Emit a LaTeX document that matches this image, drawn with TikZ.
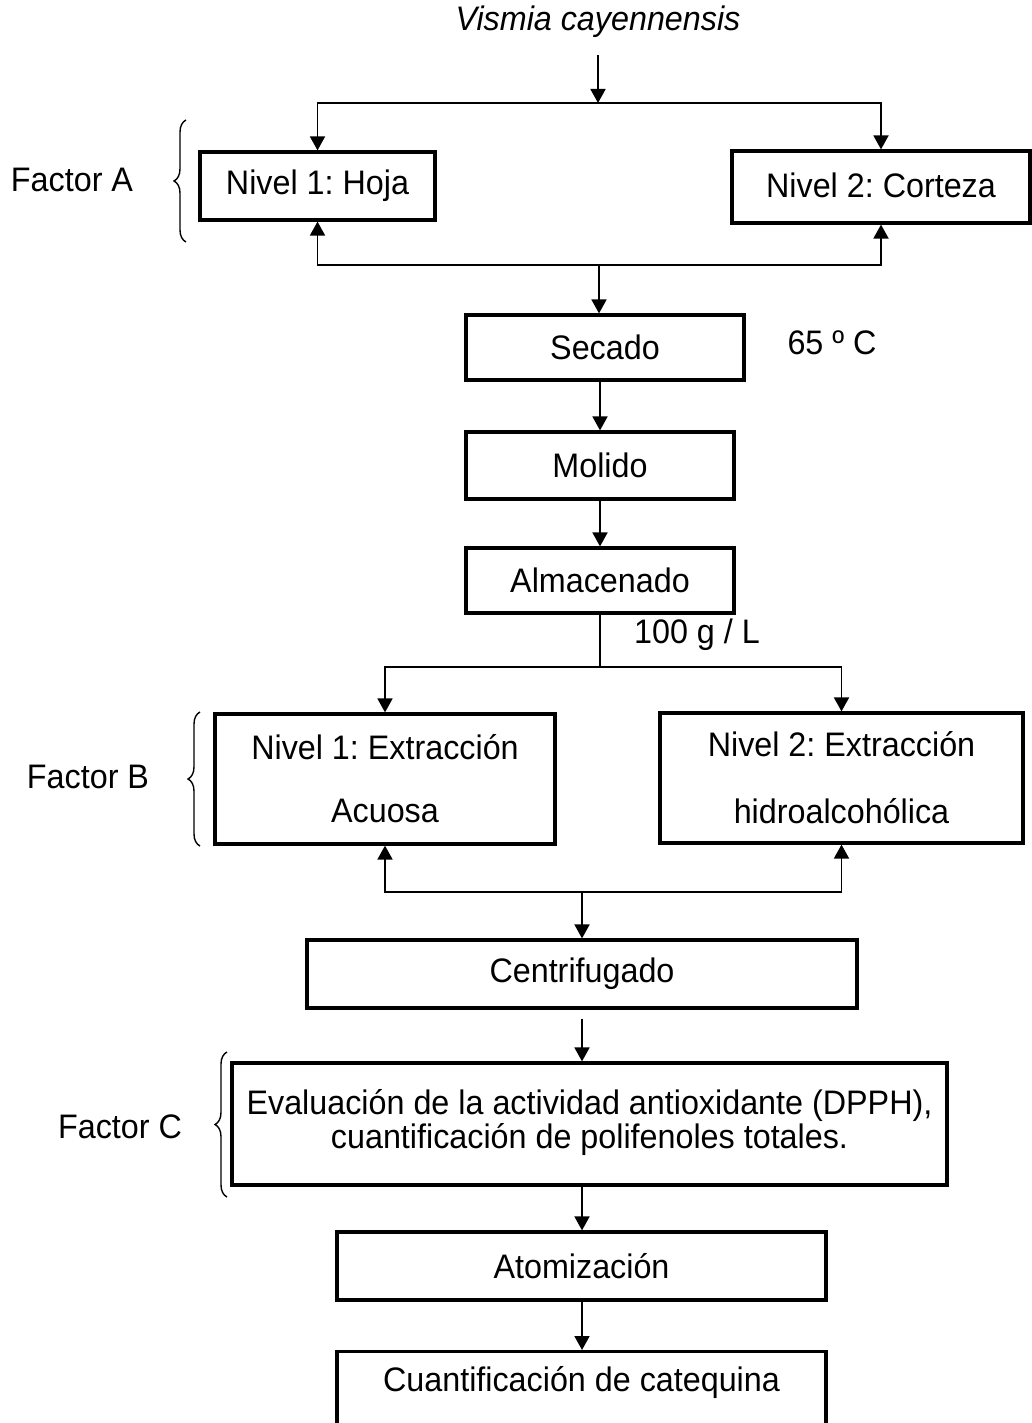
\documentclass[tikz,border=0pt]{standalone}
\usepackage{fontspec}
\setmainfont{Liberation Sans}[FakeStretch=0.95]
\usetikzlibrary{arrows.meta,decorations.pathreplacing}
\frenchspacing

\begin{document}
\begin{tikzpicture}[x=1pt,y=-1pt,
  every node/.style={font=\fontsize{34}{40}\selectfont, inner sep=0pt},
  stage/.style={draw, line width=3.2pt, minimum width=#1},
  link/.style={line width=1.8pt},
  flow/.style={line width=1.8pt, -{Triangle[length=14pt,width=15pt]}},
  bracegrp/.style={line width=1.4pt, decorate, decoration={brace, amplitude=12pt}},
  factor/.style={anchor=center}
]
\useasboundingbox (0,0) rectangle (1031,1423);

% species name and first split
\node[font=\fontsize{34}{40}\selectfont\itshape] (title) at (598,22) {Vismia cayennensis};
\coordinate (jA) at (598,103);
\coordinate (jB) at (599,265);

\node[stage=235pt, minimum height=68pt] (hoja) at (317.5,186) {Nivel 1: Hoja};
\node[stage=298pt, minimum height=72pt] (cort) at (881,187) {\raisebox{4pt}{Nivel 2: Corteza}};

\draw[flow] (598,55) -- (jA);
\draw[flow] (jA) -| (hoja.north);
\draw[flow] (jA) -| (cort.north);
\draw[flow] (jB) -| (hoja.south);
\draw[flow] (jB) -| (cort.south);

% drying, milling, storage
\node[stage=278pt, minimum height=65pt] (secado) at (605,347.5) {Secado};
\node (temp) at (832,343) {65 º C};
\node[stage=268pt, minimum height=67pt] (molido) at (600,465.5) {Molido};
\node[stage=268pt, minimum height=65pt] (alm) at (600,580.5) {Almacenado};

\draw[flow] (jB) -- (jB |- secado.north);
\draw[flow] (molido.north |- secado.south) -- (molido.north);
\draw[flow] (molido.south) -- (alm.north);

% extraction split
\coordinate (jC) at (600,667);
\node (conc) at (697,635) {100 g / L};
\node[stage=340pt, minimum height=130pt, align=center,
      font=\fontsize{34}{63}\selectfont] (b1) at (385,779) {Nivel 1: Extracción\\Acuosa};
\node[stage=363pt, minimum height=130pt, align=center,
      font=\fontsize{34}{67}\selectfont] (b2) at (841.5,778) {Nivel 2: Extracción\\hidroalcohólica};

\draw[link] (alm.south) -- (jC);
\draw[flow] (jC) -| (b1.north);
\draw[flow] (jC) -| (b2.north);

\coordinate (jD) at (582,892);
\draw[flow] (jD) -| (b1.south);
\draw[flow] (jD) -| (b2.south);

% downstream processing
\node[stage=550pt, minimum height=68pt] (centrif) at (582,974) {Centrifugado};
\node[stage=715pt, minimum height=122pt, align=center,
      font=\fontsize{34}{37}\selectfont] (eval) at (589.5,1124)
      {\raisebox{6pt}{\begin{tabular}{@{}c@{}}Evaluación de la actividad antioxidante (DPPH),\\[-3pt]cuantificación de polifenoles totales.\end{tabular}}};
\node[stage=489pt, minimum height=68pt] (atom) at (581.5,1266) {Atomización};
\node[stage=489pt, minimum height=110pt, anchor=north] (cuant) at (581.5,1350) {};
\node (cuanttxt) at (581.5,1382) {Cuantificación de catequina};

\draw[flow] (jD) -- (centrif.north);
\draw[flow] ([yshift=-9pt]centrif.south) -- (centrif.south |- eval.north);
\draw[flow] (centrif.south |- eval.south) -- (centrif.south |- atom.north);
\draw[flow] (centrif.south |- atom.south) -- (centrif.south |- cuant.north);

% factor labels and braces
\node[factor] (fa) at (72,180) {Factor A};
\node[factor] (fb) at (88,777) {Factor B};
\node[factor] (fc) at (120,1127) {Factor C};
\draw[bracegrp] (186,242) -- (186,120);
\draw[bracegrp] (200,846) -- (200,712);
\draw[bracegrp] (227,1197) -- (227,1052);
\end{tikzpicture}
\end{document}
